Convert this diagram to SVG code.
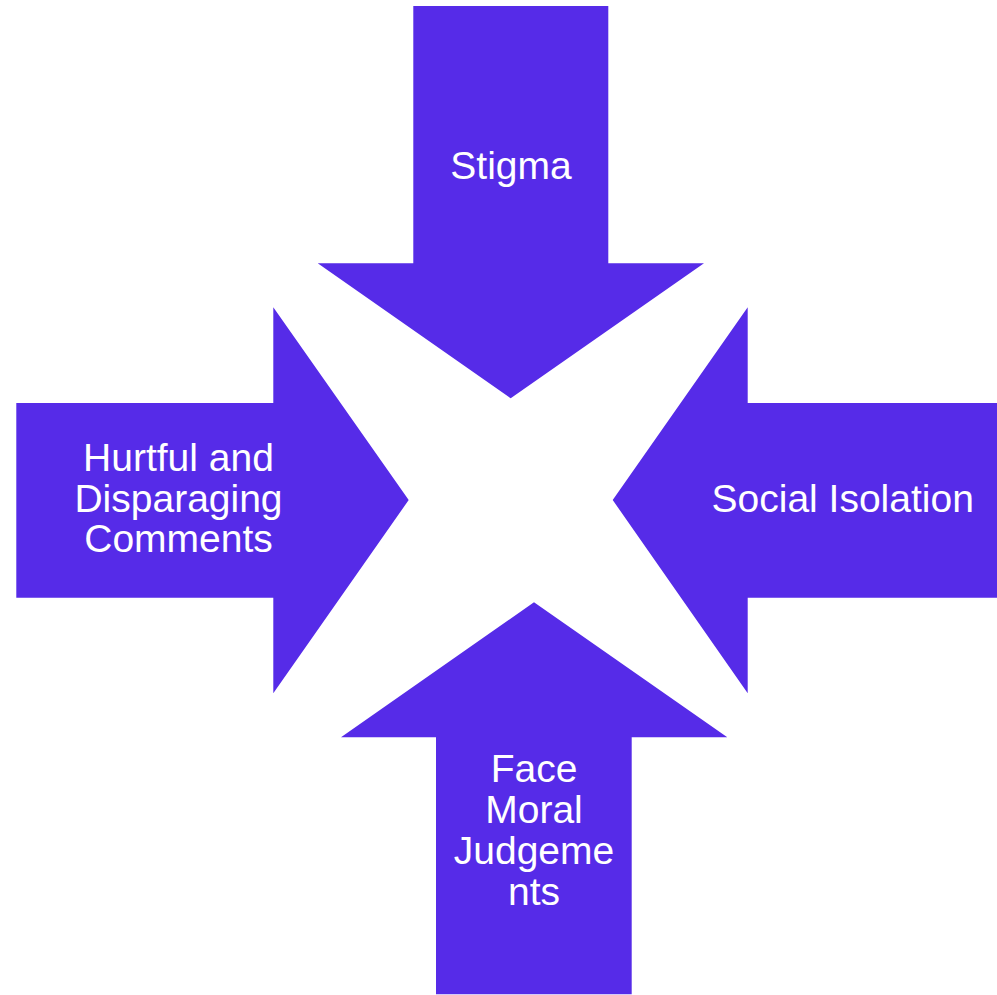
<svg xmlns="http://www.w3.org/2000/svg" width="997" height="995" viewBox="0 0 997 995">
  <style>
    .arrow { fill: #562BE8; }
    .label { fill: #FFFFFF; font-family: "Liberation Sans", Arial, sans-serif; font-size: 39px; text-anchor: middle; }
  </style>
  <rect width="997" height="995" fill="#FFFFFF"/>
  <g id="connectors"></g>
  <!-- Four block arrows converging on the centre -->
  <g id="stigma">
    <polygon class="arrow" points="413.3,6 608.3,6 608.3,263.3 704,263.3 510.7,398.3 317.7,263.3 413.3,263.3"/>
    <text class="label" x="511" y="179.3">Stigma</text>
  </g>
  <g id="hurtful-comments">
    <polygon class="arrow" points="16.3,403 273.3,403 273.3,307.3 408.7,500 273.3,693.3 273.3,597.7 16.3,597.7"/>
    <text class="label" x="178.5" y="471">Hurtful and</text>
    <text class="label" x="178.5" y="511.5">Disparaging</text>
    <text class="label" x="178.5" y="552.3">Comments</text>
  </g>
  <g id="social-isolation">
    <polygon class="arrow" points="997,403 747.7,403 747.7,307.3 612.7,500 747.7,693.3 747.7,597.7 997,597.7"/>
    <text class="label" x="842.7" y="511.7">Social Isolation</text>
  </g>
  <g id="moral-judgements">
    <polygon class="arrow" points="436,994.3 631.7,994.3 631.7,737.3 727.3,737.3 534,602.3 341,737.3 436,737.3"/>
    <text class="label" x="534" y="782.3">Face</text>
    <text class="label" x="534" y="823.3">Moral</text>
    <text class="label" x="534" y="864">Judgeme</text>
    <text class="label" x="534" y="905">nts</text>
  </g>
</svg>
